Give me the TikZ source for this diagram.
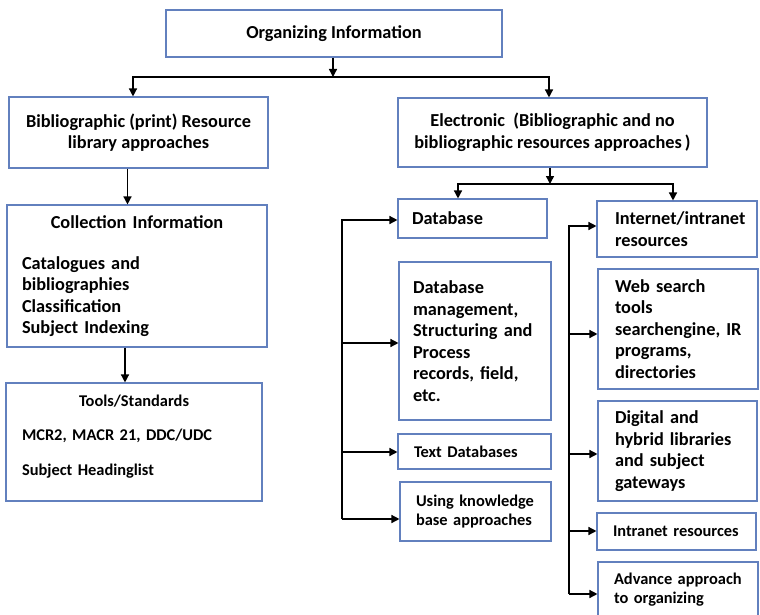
\documentclass[tikz,border=0pt]{standalone}
\usepackage{fontspec}
\setmainfont{Carlito}
\usetikzlibrary{arrows.meta}
\definecolor{boxblue}{RGB}{98,128,190}
\newcommand\bigtxt{\fontsize{18.3}{21.5}\selectfont\bfseries}
\newcommand\smalltxt{\fontsize{16.4}{19}\selectfont\bfseries}
\tikzset{
 box/.style={draw=boxblue, line width=1.1pt, inner sep=0pt, font=\bigtxt},
 arr/.style={line width=1.4pt, -{Triangle[length=8pt,width=8pt]}},
 bus/.style={line width=1.4pt}
}
\begin{document}
\begin{tikzpicture}[x=1pt,y=-1pt]
 \useasboundingbox (0,0) rectangle (760,615);
 \node[box, minimum width=336pt, minimum height=47pt] (org) at (334,33.5) {Organizing Information};
 \node[box, align=center, minimum width=259pt, minimum height=71pt] (biblio) at (138.5,132.5) {Bibliographic (print) Resource\\library approaches};
 \node[box, align=center, minimum width=309pt, minimum height=69pt] (elec) at (552.5,132.5) {Electronic\ \ (Bibliographic and no\\bibliographic resources approaches\,)};
 \node[box, align=left, text width=230pt, inner xsep=15pt, minimum height=142pt] (coll) at (137,276) {\makebox[\hsize]{Collection Information}\\[19.5pt]Catalogues and\\bibliographies\\Classification\\Subject Indexing};
 \node[box, font=\smalltxt, align=left, text width=224pt, inner xsep=16pt, minimum height=118pt] (tools) at (134,442) {\makebox[\hsize]{Tools/Standards}\\[15.5pt]MCR2,~MACR~21,~DDC/UDC\\[15.5pt]Subject~Headinglist\\[-5pt]\mbox{}};
 \node[box, align=left, text width=121pt, inner xsep=14pt, minimum height=39pt] (db) at (472.5,218.5) {Database};
 \node[box, align=left, text width=124pt, inner xsep=14pt, minimum height=158pt] (dbm) at (475,341) {Database\\management,\\Structuring~and\\Process\\records,~field,\\etc.};
 \node[box, font=\smalltxt, align=left, text width=121pt, inner xsep=16pt, minimum height=35pt] (tdb) at (474.5,451.5) {Text~Databases};
 \node[box, font=\smalltxt, align=left, text width=119pt, inner xsep=16pt, minimum height=59pt] (ukb) at (475.5,511.5) {Using~knowledge\\base~approaches};
 \node[box, align=left, text width=124pt, inner xsep=18pt, minimum height=56pt] (inet) at (677,229) {Internet/intranet\\resources};
 \node[box, align=left, text width=126pt, inner xsep=17pt, minimum height=120pt] (web) at (678,329) {Web~search\\tools\\searchengine,~IR\\programs,\\directories};
 \node[box, align=left, text width=125pt, inner xsep=17pt, minimum height=100pt] (dig) at (677.5,451) {Digital~and\\hybrid~libraries\\and~subject\\gateways};
 \node[box, font=\smalltxt, align=left, text width=127pt, inner xsep=16pt, minimum height=37pt] (intr) at (676.5,531.5) {Intranet~resources};
 \node[box, font=\smalltxt, align=left, text width=128pt, inner xsep=16pt, minimum height=55pt] (adv) at (678,589.5) {Advance~approach\\to~organizing};
 \coordinate (obus) at (333,77);
 \coordinate (ebus) at (550,184);
 \coordinate (lbus) at (342,220);
 \coordinate (lbusend) at (342,519);
 \coordinate (rbus) at (569,226);
 \coordinate (rbusend) at (569,594);
 \draw[arr] (org.south -| obus) -- (obus);
 \draw[arr] (obus) -| ([xshift=-5.5pt]biblio.north);
 \draw[arr] (obus) -| ([xshift=-3.5pt]elec.north);
 \draw[arr] ([xshift=-11pt]biblio.south) -- ([xshift=-11pt]biblio.south |- coll.north);
 \draw[arr] ([xshift=-12pt]coll.south) -- ([xshift=-12pt]coll.south |- tools.north);
 \draw[arr] (elec.south -| ebus) -- (ebus);
 \draw[arr] (ebus) -| ([xshift=-14.5pt]db.north);
 \draw[arr] (ebus) -| ([xshift=-4pt]inet.north);
 \draw[arr] (lbusend) -- (lbus) -- ([yshift=-1.5pt]db.west);
 \foreach \n/\s in {dbm/-2,tdb/-0.5,ukb/-7.5}
  \draw[arr] ([yshift=\s pt]\n.west -| lbus) -- ([yshift=\s pt]\n.west);
 \draw[arr] (rbusend) -- (rbus) -- ([yshift=3pt]inet.west);
 \foreach \n/\s in {web/-5,dig/-3,intr/0.5,adv/-4.5}
  \draw[arr] ([yshift=\s pt]\n.west -| rbus) -- ([yshift=\s pt]\n.west);
\end{tikzpicture}
\end{document}
